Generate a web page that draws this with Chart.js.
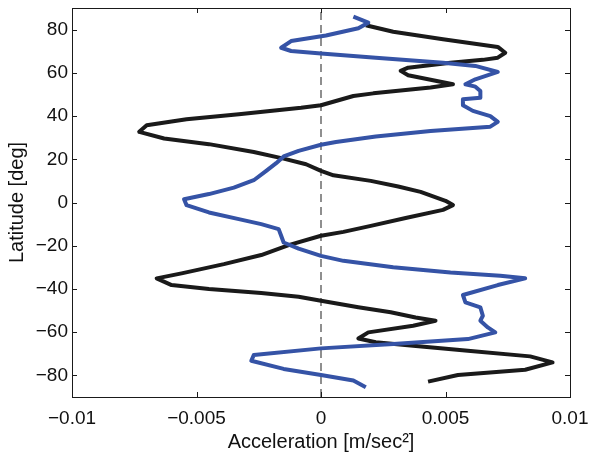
<!DOCTYPE html>
<html>
<head>
<meta charset="utf-8">
<script src="https://cdn.jsdelivr.net/npm/chart.js@4"></script>
<style>
  html, body { margin: 0; padding: 0; background: #fff; }
  #wrap { width: 589px; height: 456px; position: relative; }
</style>
</head>
<body>
<div id="wrap"><canvas id="c"></canvas></div>
<script>
// ---- data ----
const blackAcc = [0.0018,0.0029,0.0049,0.0071,0.0074,0.0071,0.0065,0.0052,0.0035,0.0032,0.0035,0.0053,0.0044,0.0021,0.0013,0.0,-0.0008,-0.0033,-0.0054,-0.0070,-0.0073,-0.0063,-0.0045,-0.0027,-0.0015,-0.0006,0.0,0.0005,0.0020,0.0031,0.0040,0.0050,0.0053,0.0049,0.0034,0.0020,0.0009,0.0,-0.0013,-0.0024,-0.0039,-0.0056,-0.0066,-0.0060,-0.0045,-0.0024,-0.0009,0.0,0.0015,0.0028,0.0038,0.0046,0.0037,0.0019,0.0015,0.0022,0.0037,0.0059,0.0084,0.0093,0.0082,0.0055,0.0043];
const blackLat = [82,79,75.5,72,69.3,67,66,64.7,62.4,60.9,58.9,54.7,53.2,50.5,49.3,45,43.8,40.8,38.5,35.7,32.7,29.6,27,23.4,20.3,17.7,14.6,12.6,10,7.4,4.9,0.8,-1.2,-3.4,-7.2,-10.8,-13.6,-15.4,-19.7,-24.3,-28.5,-32.8,-35.1,-38.2,-40,-41.9,-43.6,-45.5,-48.5,-50.8,-53.2,-54.7,-57,-60.1,-62.9,-64.7,-66.3,-68.6,-71.2,-74,-77.4,-79.8,-82.9];

const blueAcc = [0.0013,0.0019,0.0015,0.0002,-0.0012,-0.0016,-0.0012,0.0,0.0022,0.0049,0.0062,0.0071,0.0062,0.0058,0.0062,0.0064,0.0064,0.0057,0.0057,0.0061,0.0068,0.0071,0.0068,0.0044,0.0022,0.0006,0.0,-0.0009,-0.0015,-0.0018,-0.0022,-0.0027,-0.0035,-0.0045,-0.0055,-0.0054,-0.0045,-0.0033,-0.0024,-0.0017,-0.0016,-0.0015,-0.0009,0.0,0.0009,0.0029,0.0052,0.0072,0.0082,0.0071,0.0057,0.0058,0.0064,0.0065,0.0064,0.0067,0.0070,0.0059,0.0029,0.0,-0.0027,-0.0028,-0.0015,0.0,0.0013,0.0018];
const blueLat = [86,83.2,80.6,77.3,74.7,71.6,70.1,69,67,64.7,63.2,60.4,57,54.7,53.6,51.6,48.5,47.8,45,42.4,40,37.3,35.1,33.1,30.5,28,26.7,23.9,21.3,18.2,14.6,10.3,6.9,3.9,1.5,-1.2,-4.6,-7.7,-10,-12.3,-15.4,-18.5,-21.3,-24.7,-27,-30,-32.4,-33.9,-35.1,-38.2,-42.8,-46.2,-48.5,-52.4,-54.7,-57.8,-60.1,-63.2,-65.5,-67.5,-70.6,-73.2,-77,-79.8,-82.4,-85.5];

const zeroLineAcc = [0, 0];
const zeroLineLat = [-90, 90];

const xTicks = [-0.01, -0.005, 0, 0.005, 0.01];
const xTickLabels = ['\u22120.01', '\u22120.005', '0', '0.005', '0.01'];
const yTicks = [-80, -60, -40, -20, 0, 20, 40, 60, 80];
const yTickLabels = ['\u221280', '\u221260', '\u221240', '\u221220', '0', '20', '40', '60', '80'];

const xTitle = 'Acceleration [m/sec\u00B2]';
const yTitle = 'Latitude [deg]';

// ---- build ----
const pts = (xs, ys) => xs.map((x, i) => ({ x: x, y: ys[i] }));
const FONT = 'Liberation Sans, Arial, Helvetica, sans-serif';

const frameTicks = {
  id: 'frameTicks',
  afterDatasetsDraw(chart) {
    const { ctx, chartArea: a, scales } = chart;
    const L = 5;
    ctx.save();
    ctx.strokeStyle = '#1a1a1a';
    ctx.lineWidth = 1;
    ctx.beginPath();
    xTicks.forEach(v => {
      const px = Math.round(scales.x.getPixelForValue(v)) + 0.5;
      ctx.moveTo(px, a.bottom); ctx.lineTo(px, a.bottom - L);
      ctx.moveTo(px, a.top); ctx.lineTo(px, a.top + L);
    });
    yTicks.forEach(v => {
      const py = Math.round(scales.y.getPixelForValue(v)) + 0.5;
      ctx.moveTo(a.left, py); ctx.lineTo(a.left + L, py);
      ctx.moveTo(a.right, py); ctx.lineTo(a.right - L, py);
    });
    ctx.stroke();
    ctx.strokeRect(Math.round(a.left) + 0.5, Math.round(a.top) + 0.5,
                   Math.round(a.right - a.left), Math.round(a.bottom - a.top));
    ctx.restore();
  }
};

new Chart(document.getElementById('c'), {
  type: 'scatter',
  data: {
    datasets: [
      {
        data: pts(blueAcc, blueLat),
        showLine: true, borderColor: '#3553a6', borderWidth: 4,
        pointRadius: 0, borderJoinStyle: 'round', borderCapStyle: 'butt', tension: 0, order: 0
      },
      {
        data: pts(blackAcc, blackLat),
        showLine: true, borderColor: '#1a1a1a', borderWidth: 4,
        pointRadius: 0, borderJoinStyle: 'round', borderCapStyle: 'butt', tension: 0, order: 1
      },
      {
        data: pts(zeroLineAcc, zeroLineLat),
        showLine: true, borderColor: '#6b6b6b', borderWidth: 1.5, borderDash: [8, 5],
        pointRadius: 0, tension: 0, order: 2
      }
    ]
  },
  options: {
    responsive: true,
    maintainAspectRatio: false,
    animation: false,
    events: [],
    layout: { padding: { top: 8, right: 19, left: 0, bottom: 0 } },
    plugins: { legend: { display: false }, tooltip: { enabled: false } },
    scales: {
      x: {
        type: 'linear', min: -0.01, max: 0.01,
        afterBuildTicks: s => { s.ticks = xTicks.map(v => ({ value: v })); },
        afterFit: s => { s.height = 59; s.paddingLeft = 0; s.paddingRight = 0; },
        grid: { display: false, drawTicks: false },
        border: { display: false },
        ticks: {
          padding: 10, color: '#111', maxRotation: 0, autoSkip: false,
          font: { family: FONT, size: 19 },
          callback: (v, i) => xTickLabels[i]
        },
        title: {
          display: true, text: xTitle, color: '#111',
          font: { family: FONT, size: 20 }, padding: { top: 0, bottom: 2 }
        }
      },
      y: {
        type: 'linear', min: -90, max: 90,
        afterBuildTicks: s => { s.ticks = yTicks.map(v => ({ value: v })); },
        afterFit: s => { s.width = 72; s.paddingTop = 0; s.paddingBottom = 0; },
        grid: { display: false, drawTicks: false },
        border: { display: false },
        ticks: {
          padding: 4, color: '#111', autoSkip: false,
          font: { family: FONT, size: 19 },
          callback: (v, i) => yTickLabels[i]
        },
        title: {
          display: true, text: yTitle, color: '#111',
          font: { family: FONT, size: 20 }, padding: { top: 5, bottom: 0 }
        }
      }
    }
  },
  plugins: [frameTicks]
});
</script>
</body>
</html>
